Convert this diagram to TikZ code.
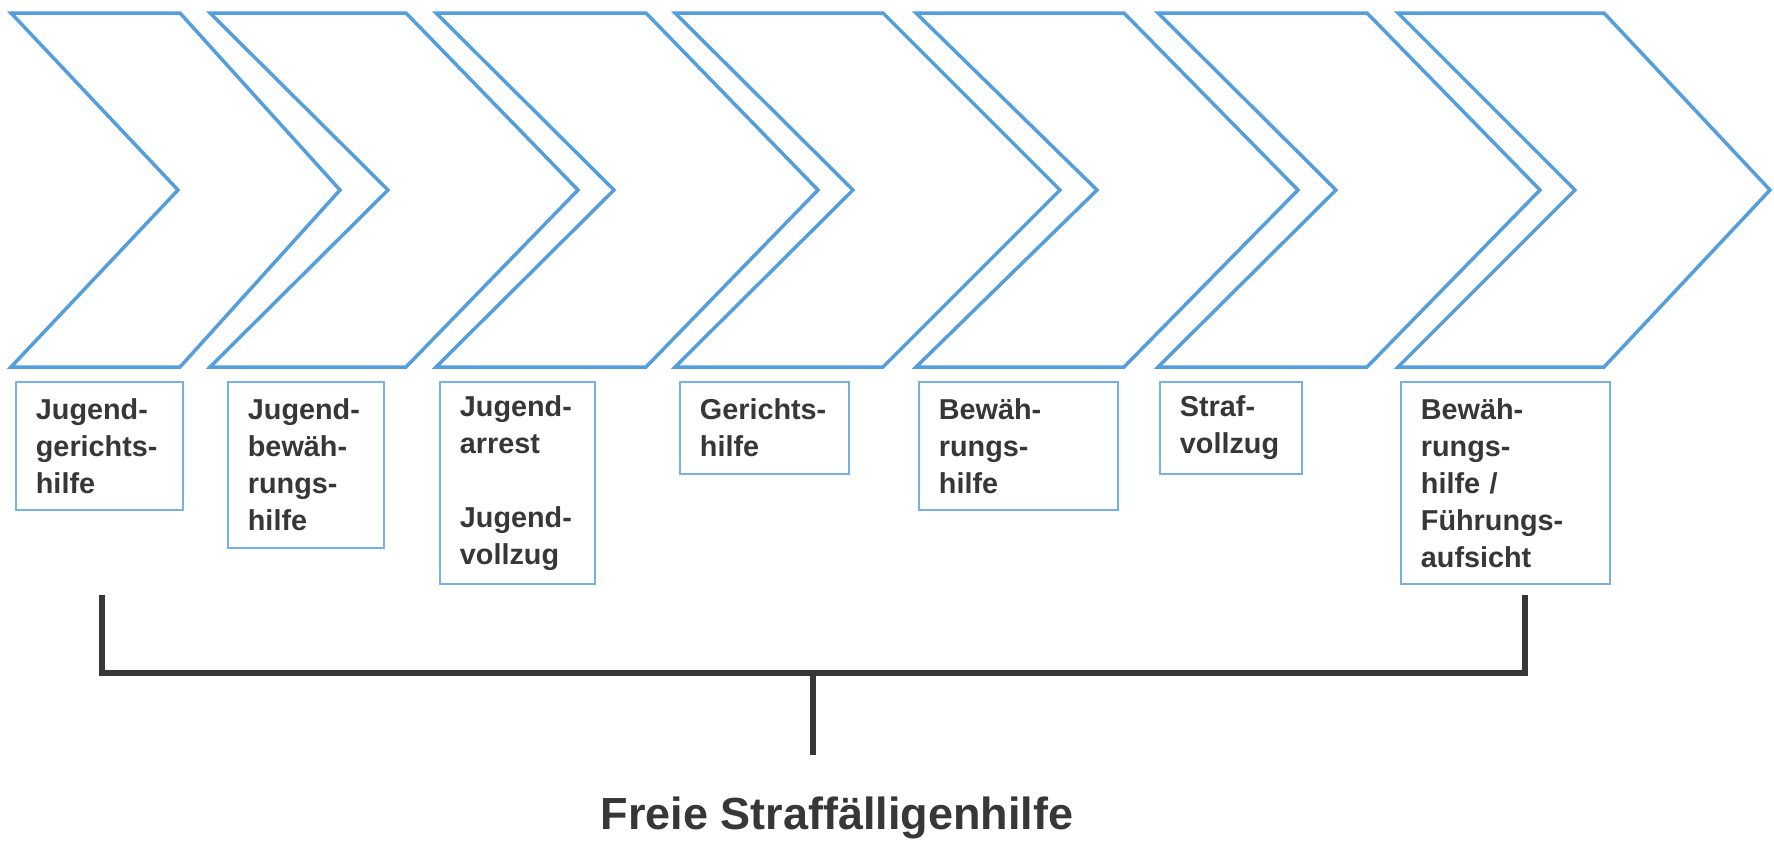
\documentclass[tikz,border=0pt]{standalone}
\usepackage{fontspec}
\setmainfont{Liberation Sans}
\definecolor{chevblue}{RGB}{84,158,222}
\definecolor{inkgray}{RGB}{55,55,55}
\begin{document}
\begin{tikzpicture}[x=0.5pt,y=-0.5pt]
        \tikzstyle{chevron} = [draw=chevblue, line width=1.75pt]
        \tikzstyle{infobox} = [draw=chevblue!80, line width=0.9pt, anchor=north west, inner xsep=10pt, inner ysep=0pt, align=left, text=inkgray, font=\fontsize{14.4}{18.5}\selectfont\bfseries]
        \tikzstyle{bracket} = [draw=inkgray, line width=3pt]

        \useasboundingbox (0,0) rectangle (1774,842);

        % the seven chevrons: left end, right end of the top edge, notch, tip
        \foreach \l/\r/\n/\t in {11/180/178/340, 210/406/388/578, 436/646/614/818, 675/883/853/1060,
                                 916/1124/1097/1298, 1158/1367/1336/1540, 1398/1604/1575/1770}
            \draw[chevron] (\l,13) -- (\r,13) -- (\t,190) -- (\r,367) -- (\l,367) -- (\n,190) -- cycle;

        % boxes under the chevrons
        \node[infobox, text width=63.5pt, minimum height=64pt] (b1) at (15,381) {Jugend-\\gerichts-\\hilfe};
        \node[infobox, text width=58pt, minimum height=83pt] (b2) at (227,381) {Jugend-\\bewäh-\\rungs-\\hilfe};
        \node[infobox, text width=57.5pt, minimum height=101pt] (b3) at (439,381) {Jugend-\\arrest\\[18.5pt]Jugend-\\vollzug};
        \node[infobox, text width=64.5pt, minimum height=46pt] (b4) at (679,381) {Gerichts-\\hilfe};
        \node[infobox, text width=79.5pt, minimum height=64pt] (b5) at (918,381) {Bewäh-\\rungs-\\hilfe};
        \node[infobox, text width=51pt, minimum height=46pt] (b6) at (1159,381) {Straf-\\vollzug};
        \node[infobox, text width=84.5pt, minimum height=101pt] (b7) at (1400,381) {Bewäh-\\rungs-\\hilfe /\\Führungs-\\aufsicht};

        % bracket and caption
        \coordinate (L) at (102,595);
        \coordinate (R) at (1525,595);
        \coordinate (M) at (813,673);
        \coordinate (S) at (813,755);

        \draw[bracket] (L) |- (M) -| (R);
        \draw[bracket] (M) -- (S);

        \node[text=inkgray, font=\fontsize{22.5}{27}\selectfont\bfseries, anchor=base] (title) at (837,829) {Freie Straffälligenhilfe};

\end{tikzpicture}
\end{document}
